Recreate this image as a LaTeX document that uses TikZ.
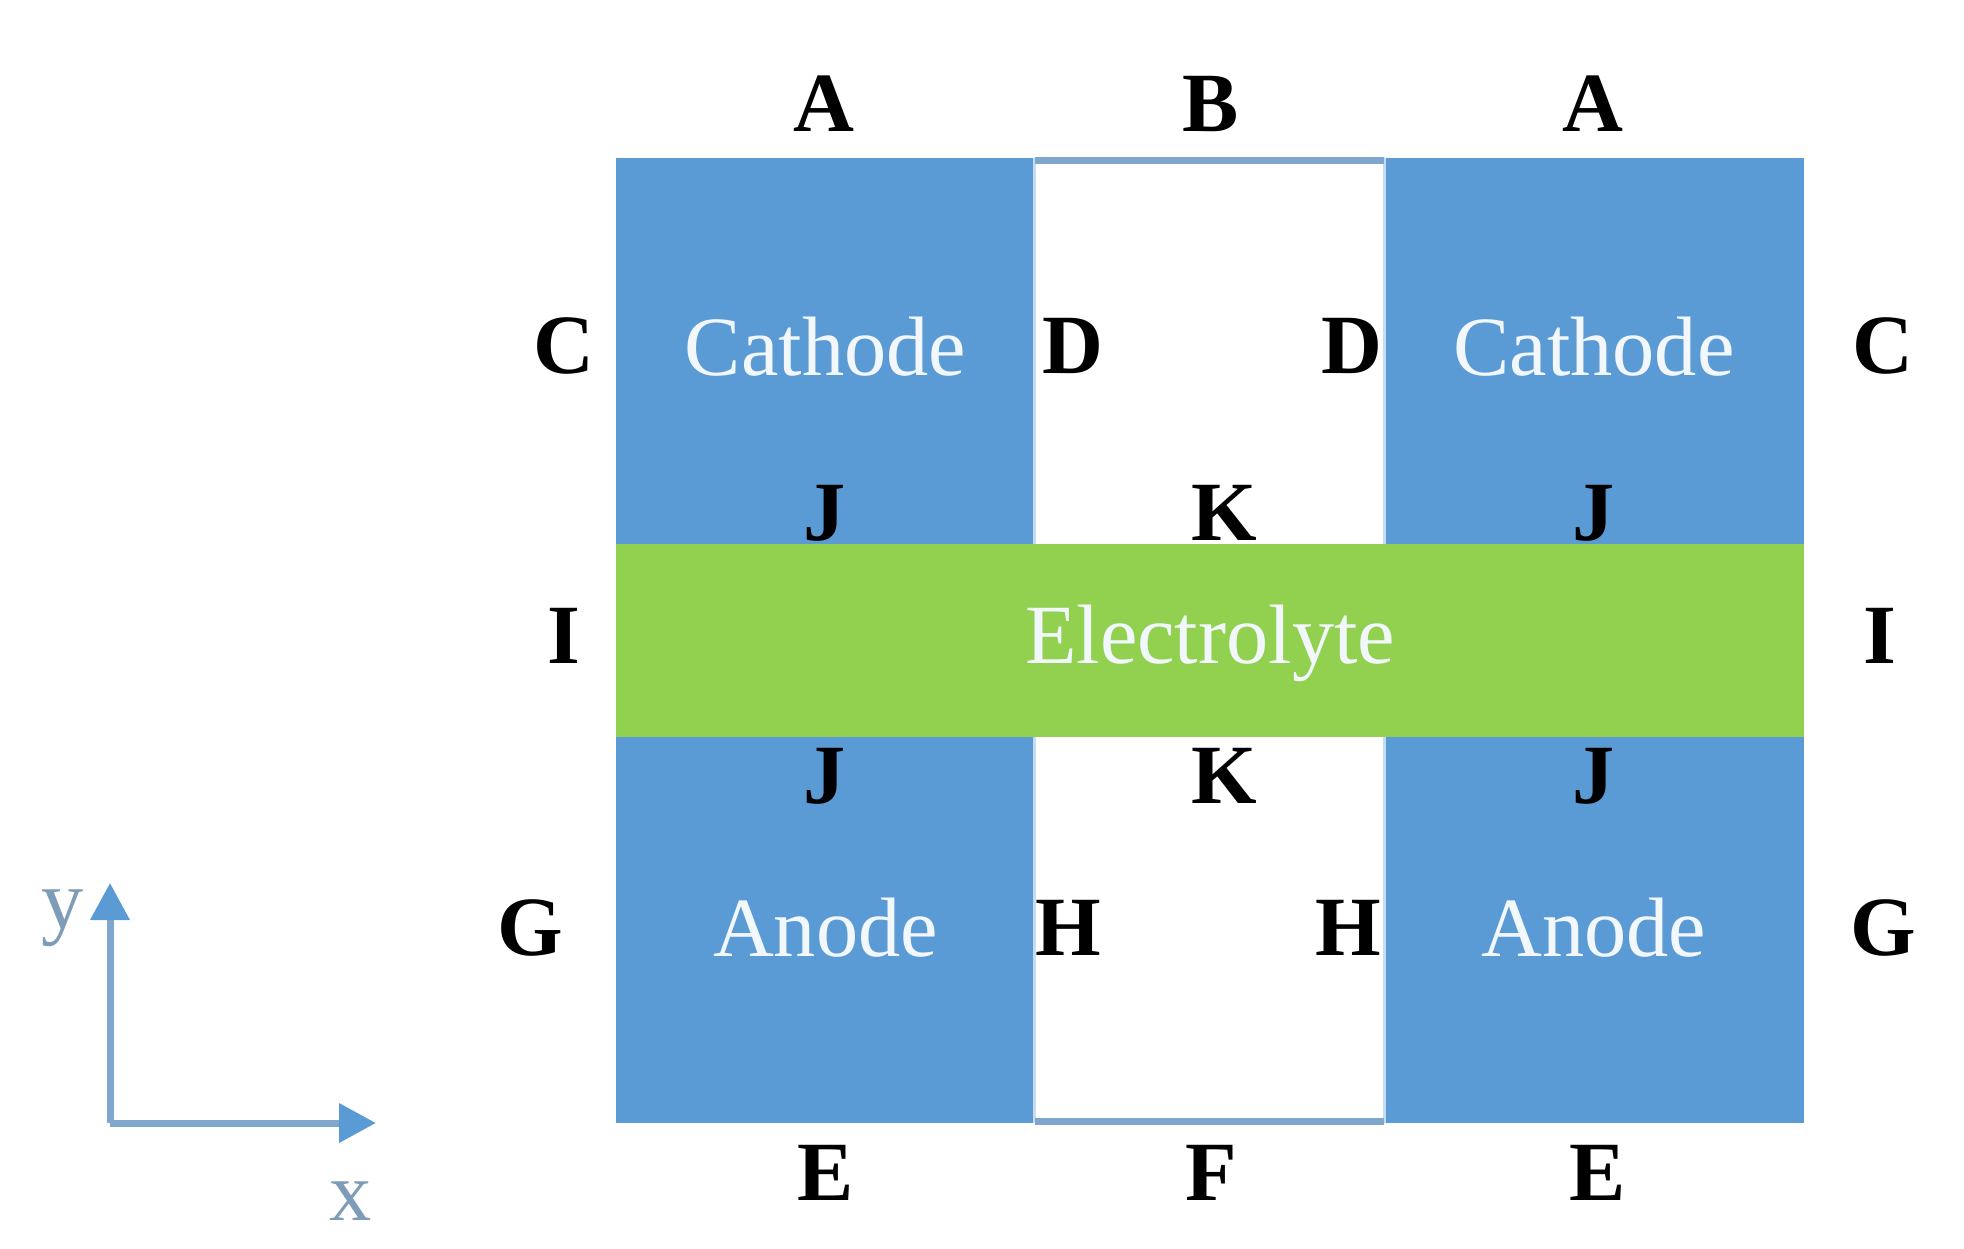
\documentclass[tikz,border=0pt]{standalone}
\usepackage{fontspec}
\setmainfont{Liberation Serif}
\usetikzlibrary{arrows.meta}
\definecolor{cellblue}{HTML}{5B9BD5}
\definecolor{cellgreen}{HTML}{92D050}
\definecolor{axisblue}{HTML}{7FA6CC}
\definecolor{axistext}{HTML}{7E9BB8}
\tikzset{
  cell/.style={minimum width=#1,inner sep=0pt,outer sep=0pt,text=white!92!cellblue,
    font=\fontsize{48}{50}\selectfont},
  letter/.style={inner sep=0pt,font=\fontsize{48}{50}\selectfont\bfseries},
  gapline/.style={axisblue,line width=0.14cm},
  axisline/.style={draw=axisblue,line width=0.14cm,-{Triangle[length=0.74cm,width=0.76cm,color=cellblue]}},
  axislabel/.style={inner sep=0pt,text=axistext,font=\fontsize{48}{50}\selectfont}
}
\begin{document}
\begin{tikzpicture}[x=0.02cm,y=-0.02cm]
  \useasboundingbox (0,0) rectangle (1964,1248);
  % electrodes
  \node[cell=8.38cm,minimum height=7.74cm,fill=cellblue,text depth=0.2cm] (cathodeL) at (825.5,351.5) {Cathode};
  \node[cell=8.4cm,minimum height=7.74cm,fill=cellblue,text depth=0.2cm] (cathodeR) at (1594,351.5) {Cathode};
  \node[cell=8.38cm,minimum height=7.74cm,fill=cellblue,text depth=0.1cm] (anodeL) at (825.5,930) {Anode};
  \node[cell=8.4cm,minimum height=7.74cm,fill=cellblue,text depth=0.1cm] (anodeR) at (1594,930) {Anode};
  % white gaps
  \draw[cellblue!35,line width=0.06cm] (cathodeL.north east) -- (anodeL.south east);
  \draw[cellblue!35,line width=0.06cm] (cathodeR.north west) -- (anodeR.south west);
  \draw[gapline] ([yshift=-0.04cm]cathodeL.north east) -- ([yshift=-0.04cm]cathodeR.north west);
  \draw[gapline] ([yshift=0.04cm]anodeL.south east) -- ([yshift=0.04cm]anodeR.south west);
  % electrolyte
  \node[cell=23.76cm,minimum height=3.86cm,fill=cellgreen,text depth=0.24cm] (electrolyte) at (1210,640.5) {Electrolyte};
  % boundary letters
  \node[letter] (a1) at (824,104) {A};
  \node[letter] (b) at (1211,104) {B};
  \node[letter] (a2) at (1593,104) {A};
  \node[letter] (c1) at (564,346) {C};
  \node[letter] (d1) at (1073,346) {D};
  \node[letter] (d2) at (1352,346) {D};
  \node[letter] (c2) at (1883,346) {C};
  \node[letter] (j1) at (825,513) {J};
  \node[letter] (k1) at (1224,513) {K};
  \node[letter] (j2) at (1594,513) {J};
  \node[letter] (i1) at (564,636) {I};
  \node[letter] (i2) at (1880,636) {I};
  \node[letter] (j3) at (825,776) {J};
  \node[letter] (k2) at (1224,776) {K};
  \node[letter] (j4) at (1594,776) {J};
  \node[letter] (g1) at (530,928) {G};
  \node[letter] (h1) at (1068,928) {H};
  \node[letter] (h2) at (1348,928) {H};
  \node[letter] (g2) at (1883,928) {G};
  \node[letter] (e1) at (826,1173) {E};
  \node[letter] (f) at (1211,1173) {F};
  \node[letter] (e2) at (1598,1173) {E};
  % axes
  \coordinate (origin) at (110,1123);
  \coordinate (ytip) at (110,883);
  \coordinate (xtip) at (376,1123);
  \draw[axisline] (origin) -- (ytip);
  \draw[axisline] (origin) -- (xtip);
  \node[axislabel] (ylabel) at (63,918) {y};
  \node[axislabel] (xlabel) at (351,1201) {x};
\end{tikzpicture}
\end{document}
